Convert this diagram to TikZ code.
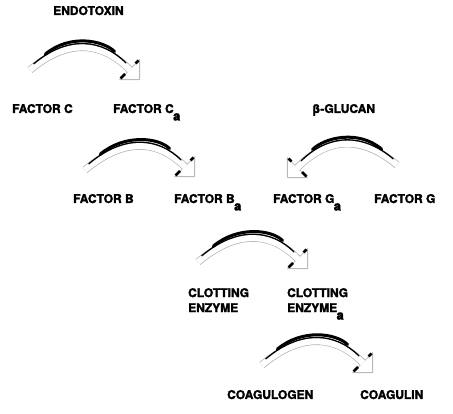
\documentclass[tikz,border=0pt]{standalone}
\usepackage{fontspec}
\setmainfont{TeX Gyre Heros}[BoldFeatures={FakeBold=2}]
\usepackage{tikz}
\usetikzlibrary{arrows.meta, positioning}
\newcommand{\actsub}[1]{\kern-0.6pt\raisebox{-7.5pt}{\fontsize{13}{13}\selectfont #1}}

\begin{document}
\begin{tikzpicture}[x=1pt, y=1pt,
lbl/.style={font=\fontsize{12}{15}\selectfont\bfseries, inner sep=0pt, anchor=base west},
flow/.style={draw=gray!55, line width=0.8pt, looseness=1.2, -{Triangle[length=15pt, width=30pt, fill=white]}, postaction={draw=gray!60, line width=7.5pt, -, shorten >=15pt}, postaction={draw=white, line width=6pt, -, shorten >=14pt}},
crest/.style={draw=black, line width=1.3pt, line cap=round, looseness=1.2, shorten <=5pt, shorten >=20pt, postaction={draw=black, line width=3pt, shorten <=20pt, shorten >=36pt}},
barb/.style={draw=black, line width=2.6pt}
]
	\useasboundingbox (0,0) rectangle (453,-414);
	\node[lbl] (fc) at (12,-113) {FACTOR C};
	\node[lbl, shift={(101,0)}] (fca) at (fc.base west) {FACTOR C\actsub{a}};
	\node[lbl, shift={(41,98)}] (endo) at (fc.base west) {ENDOTOXIN};
	\node[lbl, shift={(199,0)}] (glu) at (fca.base west) {β-GLUCAN};
	\node[lbl, shift={(61,-90)}] (fb) at (fc.base west) {FACTOR B};
	\node[lbl, shift={(101,0)}] (fba) at (fb.base west) {FACTOR B\actsub{a}};
	\node[lbl, shift={(99,0)}] (fga) at (fba.base west) {FACTOR G\actsub{a}};
	\node[lbl, shift={(101,0)}] (fg) at (fga.base west) {FACTOR G};
	\node[lbl, align=left, anchor=north west, shift={(115,-85)}] (ce) at (fb.base west) {CLOTTING\\ENZYME};
	\node[lbl, align=left, anchor=north west, shift={(99,0)}] (cea) at (ce.north west) {CLOTTING\\ENZYME\actsub{a}};
	\node[lbl, shift={(154,-196)}] (coag) at (fb.base west) {COAGULOGEN};
	\node[lbl, shift={(133,0)}] (coagn) at (coag.base west) {COAGULIN};
	% arrow ends
	\coordinate (t1) at ([shift={(18,43)}]fc.base west);
	\coordinate (h1) at ([shift={(27,33)}]fca.base west);
	\coordinate (t2) at ([shift={(12,33)}]fb.base west);
	\coordinate (h2) at ([shift={(21,26)}]fba.base west);
	\coordinate (t3) at ([shift={(23,38)}]fg.base west);
	\coordinate (h3) at ([shift={(14,25)}]fga.base west);
	\coordinate (t4) at ([shift={(10,26)}]ce.north west);
	\coordinate (h4) at ([shift={(21,19)}]cea.north west);
	\coordinate (t5) at ([shift={(35,34)}]coag.base west);
	\coordinate (h5) at ([shift={(13,26)}]coagn.base west);
	\draw[flow] (t1) to[out=40,in=135] (h1);
	\draw[crest] ([yshift=3pt]t1) to[out=40,in=135] ([yshift=3pt]h1);
	\draw[flow] (t2) to[out=40,in=135] (h2);
	\draw[crest] ([yshift=3pt]t2) to[out=40,in=135] ([yshift=3pt]h2);
	\draw[flow] (t3) to[out=140,in=45] (h3);
	\draw[crest] ([yshift=3pt]t3) to[out=140,in=45] ([yshift=3pt]h3);
	\draw[flow] (t4) to[out=40,in=135] (h4);
	\draw[crest] ([yshift=3pt]t4) to[out=40,in=135] ([yshift=3pt]h4);
	\draw[flow] (t5) to[out=40,in=135] (h5);
	\draw[crest] ([yshift=3pt]t5) to[out=40,in=135] ([yshift=3pt]h5);
	% dark barbs of the heads
	\draw[barb] ([shift={(-1.5,19.5)}]h1) -- ([shift={(-4.5,16.5)}]h1);
	\draw[barb] ([shift={(-19.5,1.5)}]h1) -- ([shift={(-15,6)}]h1);
	\draw[barb] ([shift={(-1.5,19.5)}]h2) -- ([shift={(-4.5,16.5)}]h2);
	\draw[barb] ([shift={(-19.5,1.5)}]h2) -- ([shift={(-15,6)}]h2);
	\draw[barb] ([shift={(1.5,19.5)}]h3) -- ([shift={(4.5,16.5)}]h3);
	\draw[barb] ([shift={(19.5,1.5)}]h3) -- ([shift={(15,6)}]h3);
	\draw[barb] ([shift={(-1.5,19.5)}]h4) -- ([shift={(-4.5,16.5)}]h4);
	\draw[barb] ([shift={(-19.5,1.5)}]h4) -- ([shift={(-15,6)}]h4);
	\draw[barb] ([shift={(-1.5,19.5)}]h5) -- ([shift={(-4.5,16.5)}]h5);
	\draw[barb] ([shift={(-19.5,1.5)}]h5) -- ([shift={(-15,6)}]h5);
\end{tikzpicture}
\end{document}
